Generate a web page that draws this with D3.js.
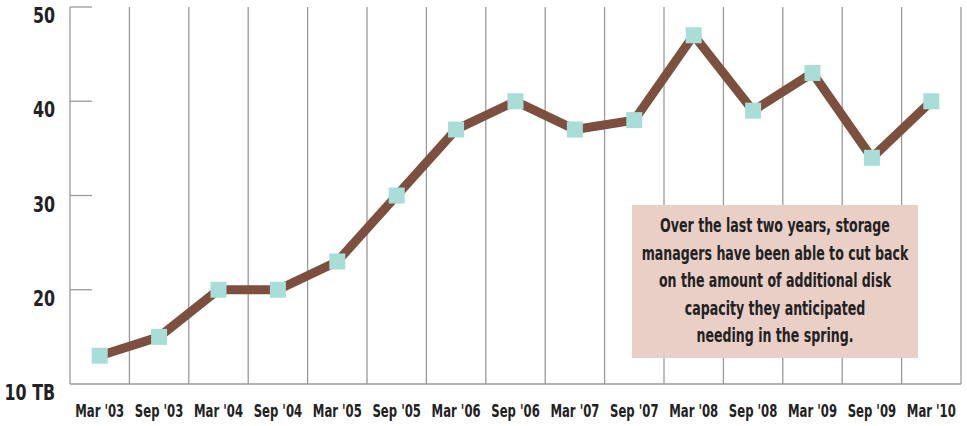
<!DOCTYPE html>
<html>
<head>
<meta charset="utf-8">
<script src="https://cdn.jsdelivr.net/npm/d3@7"></script>
<style>
    body { margin: 0; background: #fff; }
    svg { display: block; font-family: "DejaVu Sans", sans-serif; font-stretch: condensed; }
    .grid line { stroke: #9a9a9a; stroke-width: 1.3; }
    .axis-label { fill: #222; font-weight: bold; }
</style>
</head>
<body>
<svg id="chart" width="967" height="426"></svg>
<script>

var categories = ["Mar '03", "Sep '03", "Mar '04", "Sep '04", "Mar '05", "Sep '05", "Mar '06", "Sep '06",
    "Mar '07", "Sep '07", "Mar '08", "Sep '08", "Mar '09", "Sep '09", "Mar '10"]
var capacity = [13, 15, 20, 20, 23, 30, 37, 40, 37, 38, 47, 39, 43, 34, 40]
var yTicks = [10, 20, 30, 40, 50]
var yTickLabels = ['10 TB', '20', '30', '40', '50']
var noteLines = ['Over the last two years, storage', 'managers have been able to cut back',
    'on the amount of additional disk', 'capacity they anticipated', 'needing in the spring.']

var svg = d3.select('#chart')

var xScale = d3.scaleBand()
    .domain(categories)
    .range([70, 961])

var yScale = d3.scaleLinear()
    .domain([10, 50])
    .range([384, 7])

// squeeze text horizontally, the original uses a narrow display face
function squeeze(x, y, k) {
    return 'translate(' + x + ', ' + y + ') scale(' + k + ', 1)'
}

// vertical grid at every band edge, plus the right edge
var edges = categories.map(function (d) { return xScale(d) }).concat([xScale.range()[1]])

var grid = svg.append('g').attr('class', 'grid')

grid.selectAll('line.v')
    .data(edges)
    .enter()
    .append('line')
    .attr('class', 'v')
    .attr('x1', function (d) { return d })
    .attr('x2', function (d) { return d })
    .attr('y1', yScale(50))
    .attr('y2', yScale(10))

grid.append('line')
    .attr('x1', xScale.range()[0])
    .attr('x2', xScale.range()[1])
    .attr('y1', yScale(10))
    .attr('y2', yScale(10))

// short inward ticks on the value axis
grid.selectAll('line.tick')
    .data(yTicks.filter(function (d) { return d !== 10 }))
    .enter()
    .append('line')
    .attr('class', 'tick')
    .attr('x1', xScale.range()[0])
    .attr('x2', xScale.range()[0] + 22)
    .attr('y1', function (d) { return yScale(d) })
    .attr('y2', function (d) { return yScale(d) })

svg.append('g')
    .selectAll('text')
    .data(yTicks)
    .enter()
    .append('text')
    .attr('class', 'axis-label')
    .attr('transform', function (d) { return squeeze(55, yScale(d) + 16, 0.8) })
    .attr('text-anchor', 'end')
    .attr('font-size', 22)
    .text(function (d, i) { return yTickLabels[i] })

svg.append('g')
    .selectAll('text')
    .data(categories)
    .enter()
    .append('text')
    .attr('class', 'axis-label')
    .attr('transform', function (d) { return squeeze(xScale(d) + xScale.bandwidth() / 2, 417, 0.72) })
    .attr('text-anchor', 'middle')
    .attr('font-size', 18)
    .text(function (d) { return d })

// annotation
var note = svg.append('g').attr('id', 'note')

note.append('rect')
    .attr('x', 632)
    .attr('y', 205)
    .attr('width', 286)
    .attr('height', 153)
    .attr('fill', '#e9cfc6')

note.selectAll('text')
    .data(noteLines)
    .enter()
    .append('text')
    .attr('transform', function (_, i) { return squeeze(775, 232 + i * 27.5, 0.7) })
    .attr('text-anchor', 'middle')
    .attr('font-size', 20)
    .attr('font-weight', 'bold')
    .attr('fill', '#222')
    .text(function (d) { return d })

var line = d3.line()
    .x(function (d, i) { return xScale(categories[i]) + xScale.bandwidth() / 2 })
    .y(function (d) { return yScale(d) })

svg.append('path')
    .datum(capacity)
    .attr('d', line)
    .attr('fill', 'none')
    .attr('stroke', '#7c4f3e')
    .attr('stroke-width', 9)
    .attr('stroke-linejoin', 'miter')

var size = 16

svg.append('g')
    .selectAll('rect')
    .data(capacity)
    .enter()
    .append('rect')
    .attr('x', function (d, i) { return xScale(categories[i]) + xScale.bandwidth() / 2 - size / 2 })
    .attr('y', function (d) { return yScale(d) - size / 2 })
    .attr('width', size)
    .attr('height', size)
    .attr('fill', '#a8ddd8')

</script>
</body>
</html>
